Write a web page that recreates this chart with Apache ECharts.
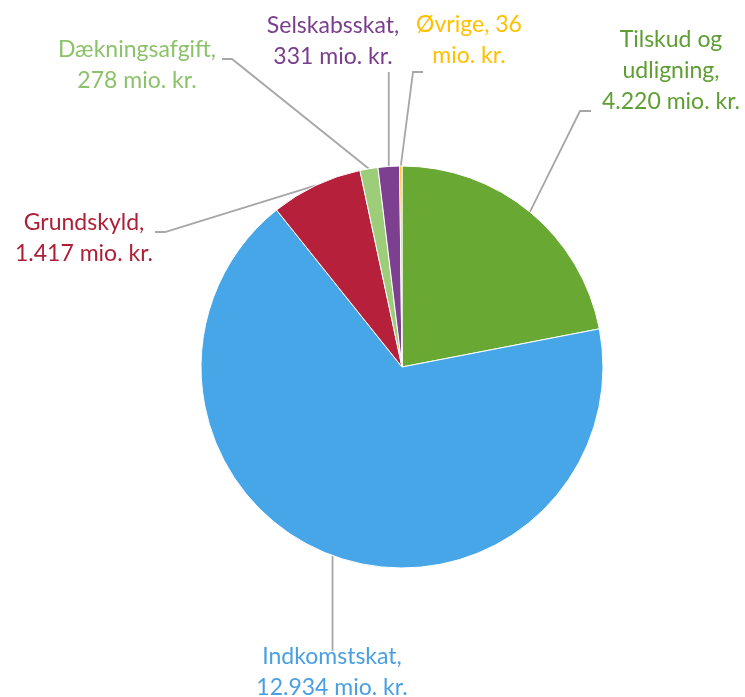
<!DOCTYPE html>
<html>
<head>
<meta charset="utf-8">
<script src="https://cdn.jsdelivr.net/npm/echarts@6/dist/echarts.min.js"></script>
<style>
  html, body { margin: 0; padding: 0; background: #fff; }
  #chart { width: 745px; height: 697px; }
</style>
</head>
<body>
<div id="chart"></div>
<script>
// kommunens indtægter, mio. kr.
var categories = ['Tilskud og\nudligning', 'Indkomstskat', 'Grundskyld', 'Dækningsafgift', 'Selskabsskat', 'Øvrige'];
var values = [4220, 12934, 1417, 278, 331, 36];
var sliceColors = ['#69a833', '#47a6e8', '#b7203a', '#9dcd79', '#7d3f8f', '#ffc000'];
var textColors = ['#5e9e32', '#4a9fe2', '#ad1f37', '#8cc26a', '#7a3d8c', '#ffc000'];

function fmt(v) {
  return String(v).replace(/\B(?=(\d{3})+(?!\d))/g, '.');
}

// label placement (text centre) and the elbow of each leader line
var labelPos = [
  { x: 671, y: 71,  line: function (a) { return [a, [580, 111], [591, 111]]; } },
  { x: 332, y: 672, line: function (a) { return [a, [a[0], 651]]; } },
  { x: 84,  y: 238, line: function (a) { return [a, [165, 232], [155, 232]]; } },
  { x: 137, y: 65,  line: function (a) { return [a, [232, 59], [222, 59]]; } },
  { x: 333, y: 41,  line: function (a) { return [a, [a[0], 72]]; } },
  { x: 469, y: 40,  line: function (a) { return [a, [413, 72], [423, 72]]; } }
];

var chart = echarts.init(document.getElementById('chart'));
chart.setOption({
  animation: false,
  series: [{
    type: 'pie',
    center: [402, 367],
    radius: 201,
    startAngle: 90,
    clockwise: true,
    avoidLabelOverlap: false,
    itemStyle: { borderColor: '#fff', borderWidth: 1 },
    label: {
      show: true,
      position: 'outside',
      fontFamily: 'Lato, "Open Sans", sans-serif',
      fontSize: 23,
      lineHeight: 31,
      overflow: 'none',
      formatter: function (p) {
        if (p.dataIndex === 5) return p.name + ', ' + fmt(p.value) + '\nmio. kr.';
        return p.name + ',\n' + fmt(p.value) + ' mio. kr.';
      }
    },
    labelLine: {
      show: true,
      lineStyle: { color: '#a6a6a6', width: 1.8 }
    },
    labelLayout: function (params) {
      var lp = labelPos[params.dataIndex];
      var anchor = params.labelLinePoints ? params.labelLinePoints[0] : [0, 0];
      return {
        x: lp.x,
        y: lp.y,
        align: 'center',
        verticalAlign: 'middle',
        labelLinePoints: lp.line(anchor)
      };
    },
    data: categories.map(function (name, i) {
      return {
        name: name,
        value: values[i],
        itemStyle: { color: sliceColors[i] },
        label: { color: textColors[i] }
      };
    })
  }]
});
</script>
</body>
</html>
